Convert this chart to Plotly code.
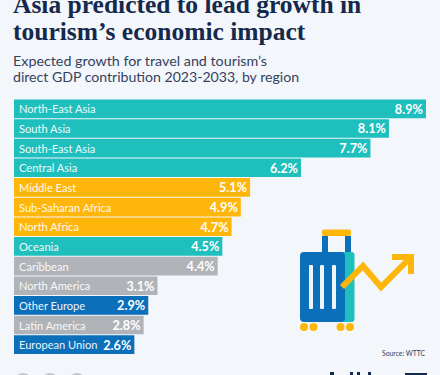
import plotly.graph_objects as go

W, H = 440, 375
regions = ["North-East Asia", "South Asia", "South-East Asia", "Central Asia", "Middle East",
           "Sub-Saharan Africa", "North Africa", "Oceania", "Caribbean", "North America",
           "Other Europe", "Latin America", "European Union"]
values = [8.9, 8.1, 7.7, 6.2, 5.1, 4.9, 4.7, 4.5, 4.4, 3.1, 2.9, 2.8, 2.6]
TEAL, AMBER, GREY, BLUE = "#1fbfbd", "#ffb60a", "#b0b3b8", "#0b6fba"
colors = [TEAL, TEAL, TEAL, TEAL, AMBER, AMBER, AMBER, TEAL, GREY, GREY, BLUE, GREY, BLUE]
value_labels = [f"{v}%" for v in values]
BG = "#f3f6fa"
NAVY = "#14294b"
SANS = "Lato, 'Open Sans', sans-serif"
SERIF = "'Liberation Serif', serif"


def px(x):
    return x / W


def py(y):
    return 1 - y / H


fig = go.Figure(go.Bar(
    y=regions, x=values, orientation="h",
    marker=dict(color=colors, line_width=0),
    text=value_labels, textposition="inside", insidetextanchor="end",
    textangle=0, cliponaxis=False, constraintext="none",
    textfont=dict(family=SANS, size=12.7, color="white", weight="bold"),
    hoverinfo="skip",
))


def text(x, y, s, size, color, family=SANS, weight="normal", anchor="left"):
    fig.add_annotation(xref="paper", yref="paper", x=px(x), y=py(y), text=s, showarrow=False,
                       xanchor=anchor, yanchor="middle", align=anchor,
                       font=dict(family=family, size=size, color=color, weight=weight),
                       borderpad=0, borderwidth=0)


for r in regions:
    fig.add_annotation(xref="x", yref="y", x=0, y=r, text=r, showarrow=False, xanchor="left",
                       xshift=2.5, font=dict(family=SANS, size=11.1, color="white"), opacity=0.92)

text(13, 4, "Asia predicted to lead growth in", 25.5, NAVY, SERIF, "bold")
text(13, 31, "tourism’s economic impact", 25.5, NAVY, SERIF, "bold")
text(13, 60, "Expected growth for travel and tourism’s", 14.3, "#33425f")
text(13, 76, "direct GDP contribution 2023-2033, by region", 14.1, "#33425f")
text(426, 352.5, "Source: WTTC", 6.8, "#33425f", anchor="right")


def rect(x0, y0, x1, y1, color, r=0):
    if r:
        path = (f"M {px(x0 + r)} {py(y0)} L {px(x1 - r)} {py(y0)} Q {px(x1)} {py(y0)} {px(x1)} {py(y0 + r)} "
                f"L {px(x1)} {py(y1 - r)} Q {px(x1)} {py(y1)} {px(x1 - r)} {py(y1)} "
                f"L {px(x0 + r)} {py(y1)} Q {px(x0)} {py(y1)} {px(x0)} {py(y1 - r)} "
                f"L {px(x0)} {py(y0 + r)} Q {px(x0)} {py(y0)} {px(x0 + r)} {py(y0)} Z")
        fig.add_shape(type="path", xref="paper", yref="paper", path=path, fillcolor=color, line_width=0)
    else:
        fig.add_shape(type="rect", xref="paper", yref="paper", x0=px(x0), x1=px(x1), y0=py(y0), y1=py(y1),
                      fillcolor=color, line_width=0)


def circle(cx, cy, r, color):
    fig.add_shape(type="circle", xref="paper", yref="paper", x0=px(cx - r), x1=px(cx + r),
                  y0=py(cy - r), y1=py(cy + r), fillcolor=color, line_width=0)


# Suitcase illustration
rect(322, 236, 328, 254, BLUE)
rect(345, 236, 351, 254, BLUE)
rect(322, 229.5, 351, 236, AMBER, 2)
rect(340, 252, 354.5, 322, TEAL, 3)
rect(300, 252, 345, 322, BLUE, 4)
for x in (309, 320, 332):
    rect(x, 265, x + 4, 309, "#eef4f9", 1)
for x in (304, 313.5, 340.5, 350):
    circle(x, 327, 4, AMBER)
pts = [(342, 287), (363, 266), (381, 287), (411, 257)]
fig.add_shape(type="path", xref="paper", yref="paper",
              path="M " + " L ".join(f"{px(a)} {py(b)}" for a, b in pts),
              line=dict(color=AMBER, width=6))
fig.add_shape(type="path", xref="paper", yref="paper",
              path=f"M {px(392)} {py(257)} L {px(411)} {py(257)} L {px(411)} {py(274)}",
              line=dict(color=AMBER, width=6))

# Cropped footer
for x in (23, 50, 77):
    circle(x, 382, 9, "#c5c9cf")
for x0, x1, y0 in ((330, 334, 372), (350, 353, 372), (357, 360, 372), (368, 371, 372)):
    rect(x0, y0, x1, 376, NAVY)
rect(405, 373, 427, 376, NAVY)

fig.update_layout(
    width=W, height=H, margin=dict(l=0, r=0, t=0, b=0), autosize=False,
    paper_bgcolor=BG, plot_bgcolor=BG, showlegend=False, bargap=0.05,
    xaxis=dict(domain=[px(14), px(426)], range=[0, 8.9], visible=False, fixedrange=True),
    yaxis=dict(domain=[py(354.5), py(99)], categoryorder="array", categoryarray=regions[::-1],
               visible=False, fixedrange=True),
)
fig.write_html("out.html", config=dict(displayModeBar=False),
               post_script="document.body.style.margin='0';document.body.style.background='#f3f6fa';document.body.style.overflow='hidden';")
